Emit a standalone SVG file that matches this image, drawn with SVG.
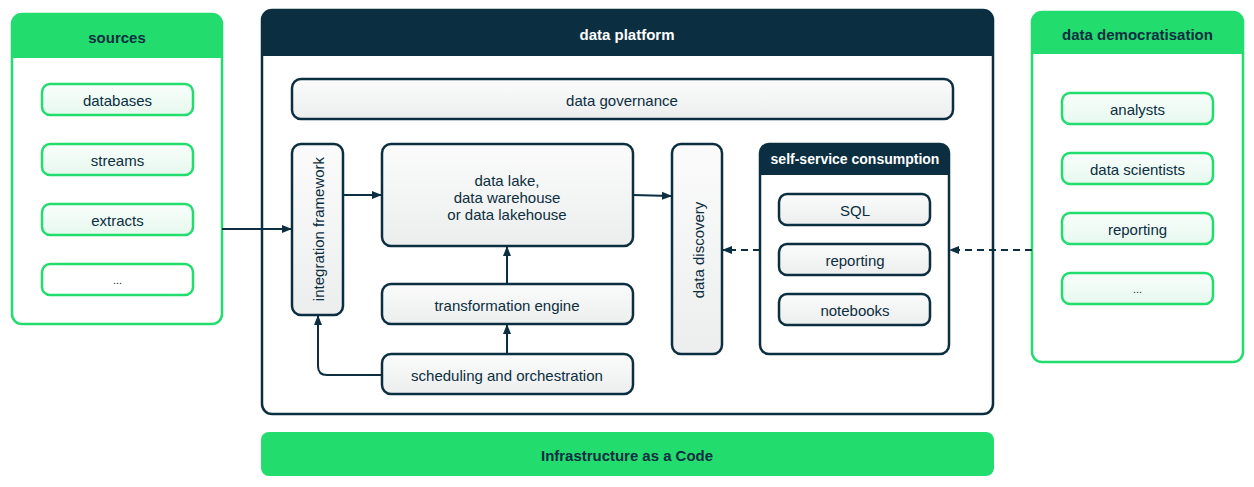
<svg xmlns="http://www.w3.org/2000/svg" width="1254" height="487" viewBox="0 0 1254 487">
<defs>
<linearGradient id="gGray" x1="0" y1="0" x2="0" y2="1">
<stop offset="0" stop-color="#fbfbfb"/>
<stop offset="1" stop-color="#eceeee"/>
</linearGradient>
<linearGradient id="gGreen" x1="0" y1="0" x2="0" y2="1">
<stop offset="0" stop-color="#f9fefb"/>
<stop offset="1" stop-color="#e6f8ee"/>
</linearGradient>
<marker id="arr" viewBox="0 0 10 10" refX="9" refY="5" markerWidth="10" markerHeight="10" markerUnits="userSpaceOnUse" orient="auto">
<path d="M0,1 L10,5 L0,9 Z" fill="#0b2e40"/>
</marker>
</defs>
<style>
text{font-family:"Liberation Sans",Arial,sans-serif;font-size:15px;fill:#0b2e40;text-anchor:middle;dominant-baseline:central}
.hd{font-weight:bold}
.wh{fill:#ffffff}
.green-outer{fill:#ffffff;stroke:#22dd6e;stroke-width:2.5}
.green-head{fill:#22dd6e}
.green-item{fill:url(#gGreen);stroke:#22dd6e;stroke-width:2.5}
.navy-outer{fill:#ffffff;stroke:#0b2e40;stroke-width:2.5}
.navy-head{fill:#0b2e40}
.gray-item{fill:url(#gGray);stroke:#0b2e40;stroke-width:2.5}
.con{fill:none;stroke:#0b2e40;stroke-width:2;marker-end:url(#arr)}
.dash{stroke-dasharray:7 5}
</style>

<g id="sources">
<rect class="green-outer" x="12" y="14" width="210" height="310" rx="10"/>
<path class="green-head" d="M12,24 Q12,14 22,14 H212 Q222,14 222,24 V58 H12 Z"/>
<text class="hd" x="117" y="37">sources</text>
</g>
<g id="src-databases"><rect class="green-item" x="42" y="84" width="151" height="31" rx="8"/><text x="117.5" y="100">databases</text></g>
<g id="src-streams"><rect class="green-item" x="42" y="144" width="151" height="31" rx="8"/><text x="117.5" y="160">streams</text></g>
<g id="src-extracts"><rect class="green-item" x="42" y="204" width="151" height="31" rx="8"/><text x="117.5" y="220">extracts</text></g>
<g id="src-more"><rect class="green-item" x="42" y="264" width="151" height="31" rx="8" style="fill:#ffffff"/><text x="117.5" y="280" style="font-size:11px">...</text></g>

<g id="data-platform">
<rect class="navy-outer" x="262" y="10" width="731" height="404" rx="10"/>
<path class="navy-head" d="M262,20 Q262,10 272,10 H983 Q993,10 993,20 V56 H262 Z"/>
<text class="hd wh" x="627" y="34">data platform</text>
</g>
<g id="data-governance"><rect class="gray-item" x="292" y="79" width="661" height="40" rx="9"/><text x="622" y="100">data governance</text></g>
<g id="integration-framework"><rect class="gray-item" x="292" y="144" width="51" height="171" rx="9"/><text x="318" y="229" transform="rotate(-90 318 229)">integration framework</text></g>
<g id="data-lake"><rect class="gray-item" x="382" y="144" width="251" height="102" rx="9"/>
<text x="507" y="180">data lake,</text><text x="507" y="197">data warehouse</text><text x="507" y="214">or data lakehouse</text></g>
<g id="transformation-engine"><rect class="gray-item" x="382" y="284" width="251" height="40" rx="9"/><text x="507" y="305">transformation engine</text></g>
<g id="scheduling"><rect class="gray-item" x="382" y="354" width="251" height="40" rx="9"/><text x="507" y="375">scheduling and orchestration</text></g>
<g id="data-discovery"><rect class="gray-item" x="672" y="144" width="50" height="210" rx="9"/><text x="698" y="250" transform="rotate(-90 698 250)">data discovery</text></g>

<g id="self-service">
<rect class="navy-outer" x="760" y="144" width="189" height="210" rx="9"/>
<path class="navy-head" d="M760,153 Q760,144 769,144 H940 Q949,144 949,153 V175 H760 Z"/>
<text class="hd wh" x="855" y="159" style="font-size:14px">self-service consumption</text>
</g>
<g id="ss-sql"><rect class="gray-item" x="779" y="194" width="151" height="31" rx="8"/><text x="855" y="210">SQL</text></g>
<g id="ss-reporting"><rect class="gray-item" x="779" y="244" width="151" height="31" rx="8"/><text x="855" y="260">reporting</text></g>
<g id="ss-notebooks"><rect class="gray-item" x="779" y="294" width="151" height="31" rx="8"/><text x="855" y="310">notebooks</text></g>

<g id="data-democratisation">
<rect class="green-outer" x="1032" y="12" width="211" height="350" rx="10"/>
<path class="green-head" d="M1032,22 Q1032,12 1042,12 H1233 Q1243,12 1243,22 V54 H1032 Z"/>
<text class="hd" x="1137.5" y="34">data democratisation</text>
</g>
<g id="dd-analysts"><rect class="green-item" x="1062" y="93" width="151" height="31" rx="8"/><text x="1137.5" y="109">analysts</text></g>
<g id="dd-scientists"><rect class="green-item" x="1062" y="153" width="151" height="31" rx="8"/><text x="1137.5" y="169">data scientists</text></g>
<g id="dd-reporting"><rect class="green-item" x="1062" y="213" width="151" height="31" rx="8"/><text x="1137.5" y="229">reporting</text></g>
<g id="dd-more"><rect class="green-item" x="1062" y="273" width="151" height="31" rx="8"/><text x="1137.5" y="289" style="font-size:11px">...</text></g>

<g id="iac">
<rect x="261" y="432" width="733" height="44" rx="8" fill="#22dd6e"/>
<text class="hd" x="627" y="455" textLength="172" lengthAdjust="spacingAndGlyphs">Infrastructure as a Code</text>
</g>

<g id="connectors">
<path class="con" d="M222,229 H291"/>
<path class="con" d="M343,195 H381"/>
<path class="con" d="M633,195 L671,196"/>
<path class="con" d="M507,284 V247"/>
<path class="con" d="M507,354 V325"/>
<path class="con" d="M382,375 H327 Q318,375 318,366 V316"/>
<path class="con dash" d="M760,250 H723"/>
<path class="con dash" d="M1032,250 H950"/>
</g>
</svg>
